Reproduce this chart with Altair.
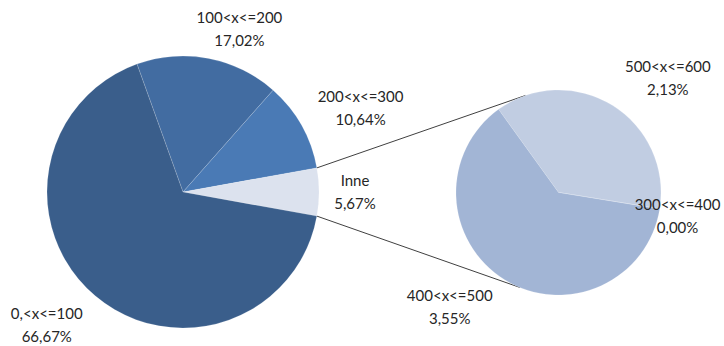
import math

import altair as alt
import pandas as pd

# Share of observations per class (percent)
main_classes = ["100<x<=200", "200<x<=300", "Inne", "0,<x<=100"]
main_values = [17.02, 10.64, 5.67, 66.67]
main_colors = ["#426CA1", "#4A7AB5", "#DCE2EE", "#3A5E8B"]

# Breakdown of the "Inne" slice
sub_classes = ["500<x<=600", "300<x<=400", "400<x<=500"]
sub_values = [2.13, 0.00, 3.55]
sub_colors = ["#C1CDE2", "#C1CDE2", "#A2B5D5"]

# Pie geometry (pixels / degrees, 0 deg = north, clockwise)
MAIN_CX, MAIN_CY, MAIN_R = 183, 192, 136
SUB_CX, SUB_CY, SUB_R = 558.5, 192.5, 102.5
SUB_START_DEG = -35.8

# Label placement: radial distance and angular nudge from the slice middle
main_label_r = [172, 196, 172, 191]
main_label_nudge = [8.3, 4.3, 0.0, 5.3]
sub_label_r = [158, 121.5, 158]
sub_label_nudge = [12.1, 2.3, 11.8]

FONT = "Lato"
TEXT_COLOR = "#262626"
FONT_SIZE = 15
LINE_HEIGHT = 23


def pct(v):
    return f"{v:.2f}".replace(".", ",") + "%"


def build_frame(classes, values, colors, start_deg, radii, nudges):
    total = sum(values)
    rows = []
    cum = 0.0
    for i, (c, v, col) in enumerate(zip(classes, values, colors)):
        mid = start_deg + (cum + v / 2) / total * 360
        rows.append(
            {
                "idx": i,
                "cls": c,
                "value": v,
                "color": col,
                "text": f"{c}\n{pct(v)}",
                "label_theta": math.radians(mid + nudges[i]),
                "label_r": radii[i],
                "start": start_deg + cum / total * 360,
                "end": start_deg + (cum + v) / total * 360,
            }
        )
        cum += v
    return pd.DataFrame(rows), total


# Rotate the main pie so that "Inne" faces the secondary pie (east)
main_total = sum(main_values)
inne_i = main_classes.index("Inne")
before = sum(main_values[:inne_i])
MAIN_START_DEG = 90 - (before + main_values[inne_i] / 2) / main_total * 360

main_df, main_total = build_frame(
    main_classes, main_values, main_colors, MAIN_START_DEG, main_label_r, main_label_nudge
)
sub_df, sub_total = build_frame(
    sub_classes, sub_values, sub_colors, SUB_START_DEG, sub_label_r, sub_label_nudge
)


def pie(df, cx, cy, r, start_deg, total):
    start = math.radians(start_deg)
    return (
        alt.Chart(df)
        .mark_arc(radius=r, stroke="white", strokeWidth=0.5, strokeOpacity=0.3)
        .encode(
            x=alt.value(cx),
            y=alt.value(cy),
            theta=alt.Theta(
                "value:Q",
                stack=True,
                scale=alt.Scale(domain=[0, total], range=[start, start + 2 * math.pi]),
            ),
            color=alt.Color("color:N", scale=None),
            order=alt.Order("idx:Q"),
        )
    )


def labels(df, cx, cy):
    # two-line labels: shift up by half a line so the block is centred on its anchor
    return (
        alt.Chart(df)
        .mark_text(
            font=FONT,
            fontSize=FONT_SIZE,
            lineHeight=LINE_HEIGHT,
            lineBreak="\n",
            color=TEXT_COLOR,
            align="center",
            baseline="middle",
            dy=-LINE_HEIGHT / 2,
        )
        .encode(
            x=alt.value(cx),
            y=alt.value(cy),
            theta=alt.Theta("label_theta:Q", scale=None),
            radius=alt.Radius("label_r:Q", scale=None),
            text="text:N",
        )
    )


# Connector lines from the edges of "Inne" to the secondary pie
inne = main_df.iloc[inne_i]
SUB_TOUCH_DEG = [-18.8, 202.2]


def polar(cx, cy, r, deg):
    a = math.radians(deg)
    return cx + r * math.sin(a), cy - r * math.cos(a)


conn_rows = []
for main_deg, sub_deg in zip([inne["start"], inne["end"]], SUB_TOUCH_DEG):
    x1, y1 = polar(MAIN_CX, MAIN_CY, MAIN_R, main_deg)
    x2, y2 = polar(SUB_CX, SUB_CY, SUB_R, sub_deg)
    conn_rows.append({"x": x1, "y": y1, "x2": x2, "y2": y2})
conn_df = pd.DataFrame(conn_rows)

connectors = (
    alt.Chart(conn_df)
    .mark_rule(color="#404040", strokeWidth=1)
    .encode(
        x=alt.X("x:Q", scale=None),
        y=alt.Y("y:Q", scale=None),
        x2="x2:Q",
        y2="y2:Q",
    )
)

chart = (
    alt.layer(
        connectors,
        pie(main_df, MAIN_CX, MAIN_CY, MAIN_R, MAIN_START_DEG, main_total),
        pie(sub_df, SUB_CX, SUB_CY, SUB_R, SUB_START_DEG, sub_total),
        labels(main_df, MAIN_CX, MAIN_CY),
        labels(sub_df, SUB_CX, SUB_CY),
    )
    .resolve_scale(theta="independent", radius="independent")
    .properties(width=724, height=346, padding=0, autosize="none", background="white")
    .configure_view(stroke=None)
)

chart.save("out.html", embed_options={"renderer": "svg", "actions": False})
